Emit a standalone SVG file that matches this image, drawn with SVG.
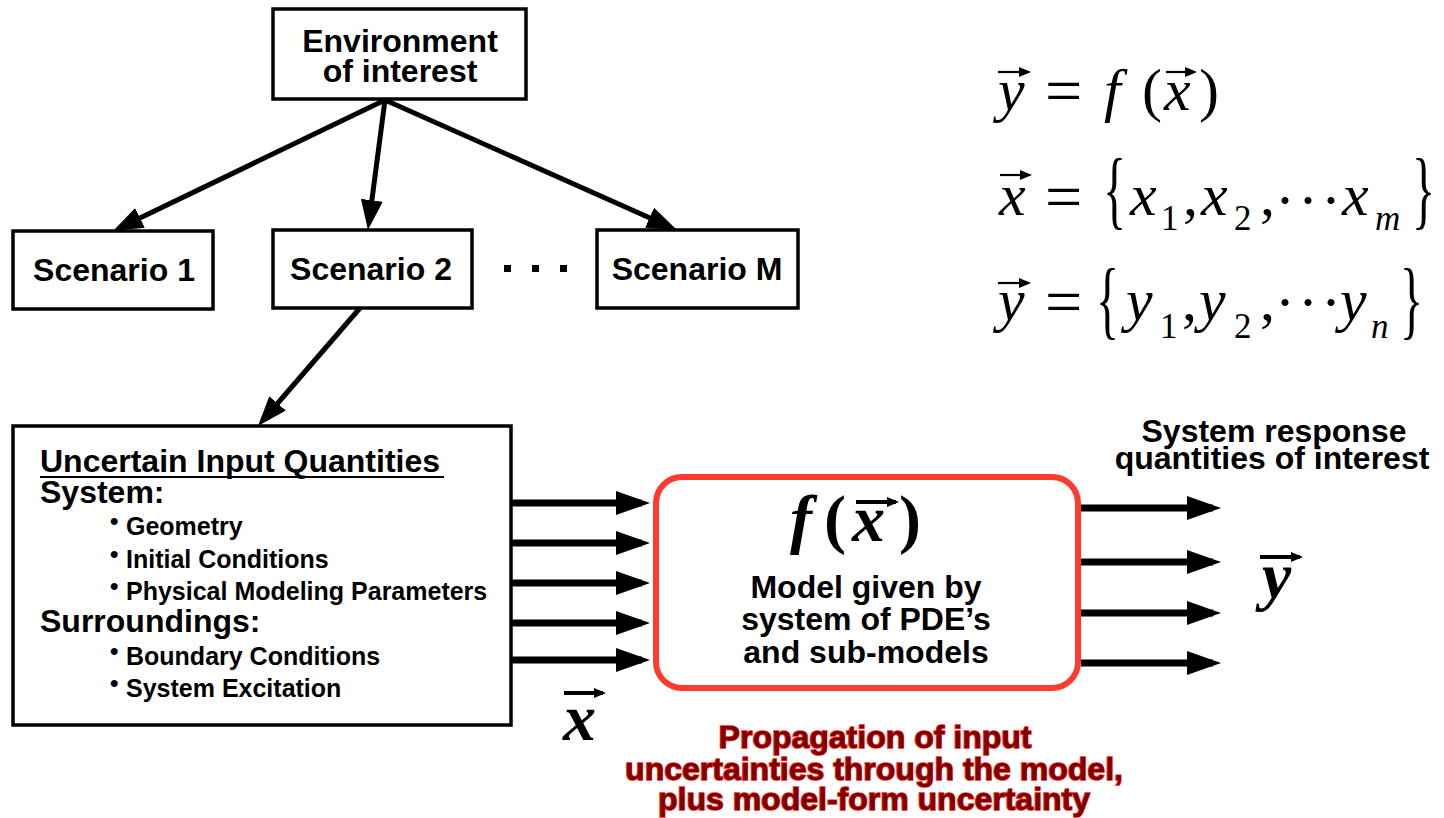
<svg xmlns="http://www.w3.org/2000/svg" width="1444" height="818" viewBox="0 0 1444 818">
  <style>
    .lbl { font-family: "Liberation Sans", Arial, sans-serif; font-weight: bold; fill: #000; }
    .big { font-size: 32px; }
    .item { font-size: 25px; }
    .mid { text-anchor: middle; }
    .box { fill: #fff; stroke: #000; stroke-width: 3.5; }
    .conn { stroke: #000; stroke-width: 5; fill: none; }
    .flow { stroke: #000; stroke-width: 7; fill: none; }
    .vecbar { stroke: #000; stroke-width: 2.2; }
    .math { font-family: "Liberation Serif", "Times New Roman", serif; font-size: 60px; fill: #000; }
    .it { font-style: italic; }
    .eq { font-size: 66px; }
    .sub { font-size: 35px; }
    .vec { font-family: "Liberation Serif", "Times New Roman", serif; font-style: italic; font-weight: bold; font-size: 66px; fill: #000; }
    .red { font-family: "Liberation Sans", Arial, sans-serif; font-weight: bold; font-size: 32px; fill: #7d0000; stroke: #ff2418; stroke-width: 1.6; paint-order: stroke; text-anchor: middle; }
  </style>
  <defs>
    <marker id="head" markerUnits="userSpaceOnUse" markerWidth="30" markerHeight="22" viewBox="0 0 30 22" refX="22" refY="11" orient="auto">
      <path d="M0,0 L30,11 L0,22 z" fill="#000"/>
    </marker>
    <marker id="headL" markerUnits="userSpaceOnUse" markerWidth="34" markerHeight="24" viewBox="0 0 34 24" refX="26" refY="12" orient="auto">
      <path d="M0,0 L34,12 L0,24 z" fill="#000"/>
    </marker>
    <marker id="headS" markerUnits="userSpaceOnUse" markerWidth="12" markerHeight="10" viewBox="0 0 12 10" refX="9" refY="5" orient="auto">
      <path d="M0,0 L12,5 L0,10 z" fill="#000"/>
    </marker>
  </defs>

  <rect width="1444" height="818" fill="#fff"/>

  <!-- connectors -->
  <g id="connectors">
    <line class="conn" x1="385" y1="100" x2="120.2" y2="227.5" marker-end="url(#head)"/>
    <line class="conn" x1="385" y1="100" x2="369" y2="222.1" marker-end="url(#head)"/>
    <line class="conn" x1="385" y1="100" x2="669.7" y2="226.7" marker-end="url(#head)"/>
    <line class="conn" x1="360" y1="308" x2="263.2" y2="420" marker-end="url(#head)"/>
    <!-- inputs into the model -->
    <line class="flow" x1="512" y1="503" x2="642" y2="503" marker-end="url(#headL)"/>
    <line class="flow" x1="512" y1="543" x2="642" y2="543" marker-end="url(#headL)"/>
    <line class="flow" x1="512" y1="583" x2="642" y2="583" marker-end="url(#headL)"/>
    <line class="flow" x1="512" y1="623" x2="642" y2="623" marker-end="url(#headL)"/>
    <line class="flow" x1="512" y1="660" x2="642" y2="660" marker-end="url(#headL)"/>
    <!-- responses out of the model -->
    <line class="flow" x1="1081" y1="508" x2="1213" y2="508" marker-end="url(#headL)"/>
    <line class="flow" x1="1081" y1="562" x2="1213" y2="562" marker-end="url(#headL)"/>
    <line class="flow" x1="1081" y1="613" x2="1213" y2="613" marker-end="url(#headL)"/>
    <line class="flow" x1="1081" y1="663" x2="1213" y2="663" marker-end="url(#headL)"/>
  </g>

  <g id="environment">
    <rect class="box" x="273" y="9" width="253" height="90" stroke-width="4"/>
    <text class="lbl big mid" x="400" y="52">Environment</text>
    <text class="lbl big mid" x="400" y="82">of interest</text>
  </g>

  <g id="scenario-1">
    <rect class="box" x="13" y="231" width="200" height="78"/>
    <text class="lbl big mid" x="114" y="281">Scenario 1</text>
  </g>

  <g id="scenario-2">
    <rect class="box" x="273" y="230" width="199" height="78"/>
    <text class="lbl big mid" x="371" y="280">Scenario 2</text>
  </g>

  <g id="ellipsis">
    <rect x="504" y="265" width="7" height="7" fill="#000"/>
    <rect x="532" y="265" width="7" height="7" fill="#000"/>
    <rect x="560" y="265" width="7" height="7" fill="#000"/>
  </g>

  <g id="scenario-m">
    <rect class="box" x="597" y="230" width="201" height="78"/>
    <text class="lbl big mid" x="697" y="280">Scenario M</text>
  </g>

  <g id="inputs">
    <rect class="box" x="13" y="426" width="498" height="299"/>
    <text class="lbl big" x="40" y="472">Uncertain Input Quantities</text>
    <line x1="40" y1="477" x2="444" y2="477" stroke="#000" stroke-width="2"/>
    <text class="lbl big" x="40" y="503">System:</text>
    <text class="lbl item" x="110" y="535"><tspan font-size="24" dy="-6">•</tspan><tspan x="126" dy="6">Geometry</tspan></text>
    <text class="lbl item" x="110" y="568"><tspan font-size="24" dy="-6">•</tspan><tspan x="126" dy="6">Initial Conditions</tspan></text>
    <text class="lbl item" x="110" y="600"><tspan font-size="24" dy="-6">•</tspan><tspan x="126" dy="6">Physical Modeling Parameters</tspan></text>
    <text class="lbl big" x="40" y="632">Surroundings:</text>
    <text class="lbl item" x="110" y="665"><tspan font-size="24" dy="-6">•</tspan><tspan x="126" dy="6">Boundary Conditions</tspan></text>
    <text class="lbl item" x="110" y="697"><tspan font-size="24" dy="-6">•</tspan><tspan x="126" dy="6">System Excitation</tspan></text>
  </g>

  <g id="x-vector">
    <line x1="564" y1="693" x2="603" y2="693" stroke="#000" stroke-width="4" marker-end="url(#headS)"/>
    <text class="vec" x="563" y="740">x</text>
  </g>

  <g id="model">
    <rect x="656" y="477" width="422" height="211" rx="26" fill="#fff" stroke="#ff3b2f" stroke-width="6"/>
    <text class="vec" y="541"><tspan x="790">f</tspan><tspan x="824" font-style="normal">(</tspan><tspan x="852">x</tspan><tspan x="899" font-style="normal">)</tspan></text>
    <line x1="856" y1="502" x2="896" y2="502" stroke="#000" stroke-width="4" marker-end="url(#headS)"/>
    <text class="lbl big mid" x="866" y="598">Model given by</text>
    <text class="lbl big mid" x="866" y="630">system of PDE’s</text>
    <text class="lbl big mid" x="866" y="663">and sub-models</text>
  </g>

  <g id="responses">
    <text class="lbl big mid" x="1274" y="442">System response</text>
    <text class="lbl big mid" x="1272" y="469">quantities of interest</text>
    <line x1="1260" y1="557" x2="1300" y2="557" stroke="#000" stroke-width="4" marker-end="url(#headS)"/>
    <text class="vec" x="1262" y="598">y</text>
  </g>

  <g id="propagation">
    <text class="red" x="875" y="748">Propagation of input</text>
    <text class="red" x="874" y="780">uncertainties through the model,</text>
    <text class="red" x="874" y="810">plus model-form uncertainty</text>
  </g>

  <g id="equations">
    <!-- y = f(x) -->
    <text class="math it" x="998" y="110">y</text>
    <text class="math eq" x="1045" y="113">=</text>
    <text class="math it" x="1104" y="110">f</text>
    <text class="math" x="1142" y="110">(</text>
    <text class="math it" x="1164" y="110">x</text>
    <text class="math" x="1199" y="110">)</text>
    <line class="vecbar" x1="998" y1="72" x2="1028" y2="72" marker-end="url(#headS)"/>
    <line class="vecbar" x1="1166" y1="72" x2="1194" y2="72" marker-end="url(#headS)"/>

    <!-- x = {x1, x2, ... xm} -->
    <text class="math it" x="999" y="215">x</text>
    <text class="math eq" x="1045" y="219">=</text>
    <text class="math" transform="translate(1103,218) scale(0.8,1.45)">{</text>
    <text class="math" y="215"><tspan class="it" x="1130">x</tspan><tspan class="sub" x="1161" dy="15">1</tspan><tspan x="1183" dy="-15">,</tspan><tspan class="it" x="1201">x</tspan><tspan class="sub" x="1234" dy="15">2</tspan><tspan x="1260" dy="-15">,</tspan></text>
    <text class="math" y="220"><tspan x="1275">·</tspan><tspan x="1298">·</tspan><tspan x="1321">·</tspan></text>
    <text class="math" y="215"><tspan class="it" x="1342">x</tspan><tspan class="sub it" x="1375" dy="15">m</tspan></text>
    <text class="math" transform="translate(1412,218) scale(0.8,1.45)">}</text>
    <line class="vecbar" x1="1000" y1="175" x2="1029" y2="175" marker-end="url(#headS)"/>

    <!-- y = {y1, y2, ... yn} -->
    <text class="math it" x="998" y="320">y</text>
    <text class="math eq" x="1045" y="324">=</text>
    <text class="math" transform="translate(1096,328) scale(0.8,1.45)">{</text>
    <text class="math" y="320"><tspan class="it" x="1126">y</tspan><tspan class="sub" x="1160" dy="18">1</tspan><tspan x="1182" dy="-18">,</tspan><tspan class="it" x="1199">y</tspan><tspan class="sub" x="1234" dy="18">2</tspan><tspan x="1260" dy="-18">,</tspan></text>
    <text class="math" y="322"><tspan x="1275">·</tspan><tspan x="1298">·</tspan><tspan x="1321">·</tspan></text>
    <text class="math" y="320"><tspan class="it" x="1340">y</tspan><tspan class="sub it" x="1371" dy="18">n</tspan></text>
    <text class="math" transform="translate(1400,328) scale(0.8,1.45)">}</text>
    <line class="vecbar" x1="998" y1="283" x2="1028" y2="283" marker-end="url(#headS)"/>
  </g>
</svg>
